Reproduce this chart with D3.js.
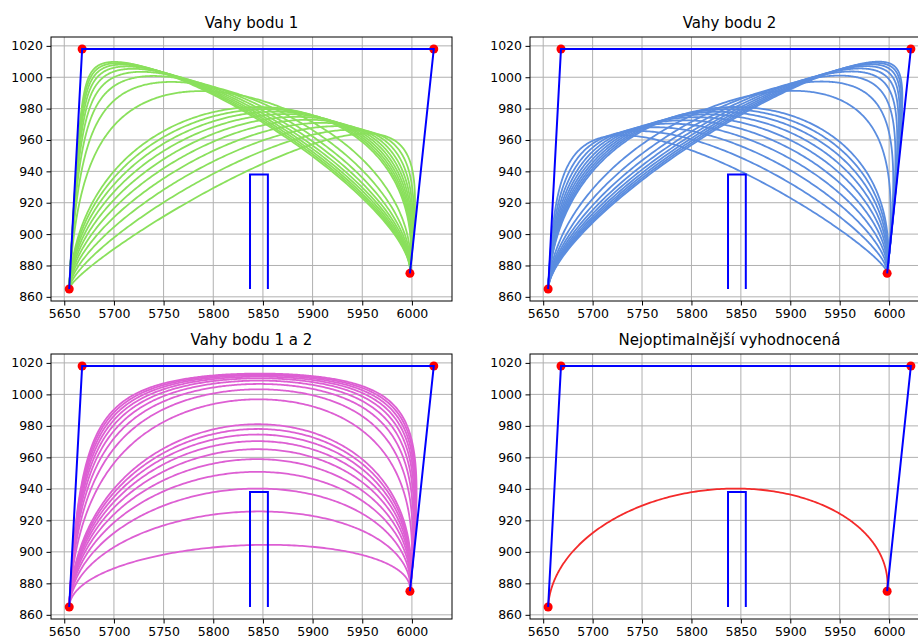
<!DOCTYPE html>
<html><head><meta charset="utf-8">
<script src="https://cdn.jsdelivr.net/npm/d3@7"></script>
<style>body{margin:0;background:#fff;overflow:hidden} text{font-family:"DejaVu Sans",sans-serif;fill:#000}</style>
</head><body>
<svg id="c" width="918" height="639"></svg>
<script>
// ---- data ----
const controlX = [5655, 5668, 6022, 5998];
const controlY = [865, 1018, 1018, 875];
const obstacleX = [5837, 5837, 5855, 5855];
const obstacleY = [865, 938, 938, 865];
const weights = [0.1, 0.2, 0.3, 0.4, 0.5, 0.6, 0.7, 0.8, 0.9, 1, 2, 3, 4, 5, 6, 7, 8, 9, 10];
const bestWeight = 0.3;
const xTicks = [5650, 5700, 5750, 5800, 5850, 5900, 5950, 6000];
const yTicks = [860, 880, 900, 920, 940, 960, 980, 1000, 1020];
const titles = ["Vahy bodu 1", "Vahy bodu 2", "Vahy bodu 1 a 2", "Nejoptimalnější vyhodnocená"];

// curve weight pairs per panel [w1, w2]
const panelWeights = [
  weights.map(w => [w, 1]),
  weights.map(w => [1, w]),
  weights.map(w => [w, w]),
  [[bestWeight, bestWeight]]
];
const panelColors = ["#8ae05c", "#5b8ddf", "#dd5fd3", "#f42a2a"];
const boxes = [
  {x0: 51, x1: 452, y0: 37, y1: 301},
  {x0: 530, x1: 929, y0: 37, y1: 301},
  {x0: 51, x1: 452, y0: 354, y1: 619},
  {x0: 530, x1: 929, y0: 354, y1: 619}
];

function rationalBezier(w1, w2, n) {
  const w = [1, w1, w2, 1];
  const pts = [];
  for (let i = 0; i <= n; i++) {
    const t = i / n, s = 1 - t;
    const b = [s*s*s, 3*t*s*s, 3*t*t*s, t*t*t];
    let den = 0, nx = 0, ny = 0;
    for (let k = 0; k < 4; k++) {
      const c = b[k] * w[k];
      den += c; nx += c * controlX[k]; ny += c * controlY[k];
    }
    pts.push([nx / den, ny / den]);
  }
  return pts;
}

const svg = d3.select("#c");
const xmin = d3.min(controlX), xmax = d3.max(controlX);
const ymin = d3.min(controlY), ymax = d3.max(controlY);
const mx = (xmax - xmin) * 0.05, my = (ymax - ymin) * 0.05;

boxes.forEach((bx, pi) => {
  const x = d3.scaleLinear().domain([xmin - mx, xmax + mx]).range([bx.x0, bx.x1]);
  const y = d3.scaleLinear().domain([ymin - my, ymax + my]).range([bx.y1, bx.y0]);
  const g = svg.append("g");
  const clipId = "clip" + pi;
  g.append("clipPath").attr("id", clipId).append("rect")
    .attr("x", bx.x0).attr("y", bx.y0).attr("width", bx.x1 - bx.x0).attr("height", bx.y1 - bx.y0);

  // grid
  const grid = g.append("g").attr("stroke", "#b0b0b0").attr("stroke-width", 1);
  xTicks.forEach(v => grid.append("line").attr("x1", x(v)).attr("x2", x(v)).attr("y1", bx.y0).attr("y2", bx.y1));
  yTicks.forEach(v => grid.append("line").attr("y1", y(v)).attr("y2", y(v)).attr("x1", bx.x0).attr("x2", bx.x1));

  const plot = g.append("g").attr("clip-path", `url(#${clipId})`);
  const line = d3.line().x(d => x(d[0])).y(d => y(d[1]));

  panelWeights[pi].forEach(([w1, w2]) => {
    plot.append("path").attr("d", line(rationalBezier(w1, w2, 300)))
      .attr("fill", "none").attr("stroke", panelColors[pi]).attr("stroke-width", 1.8);
  });

  // control points
  controlX.forEach((cx, i) => {
    plot.append("circle").attr("cx", x(cx)).attr("cy", y(controlY[i])).attr("r", 4.5).attr("fill", "#ff0000");
  });
  // control polygon
  plot.append("path").attr("d", line(controlX.map((cx, i) => [cx, controlY[i]])))
    .attr("fill", "none").attr("stroke", "#0000ff").attr("stroke-width", 2);
  // obstacle
  plot.append("path").attr("d", line(obstacleX.map((ox, i) => [ox, obstacleY[i]])))
    .attr("fill", "none").attr("stroke", "#0000ff").attr("stroke-width", 2);

  // spines
  g.append("rect").attr("x", bx.x0).attr("y", bx.y0).attr("width", bx.x1 - bx.x0).attr("height", bx.y1 - bx.y0)
    .attr("fill", "none").attr("stroke", "#000").attr("stroke-width", 1);

  // axes ticks
  const xAxis = d3.axisBottom(x).tickValues(xTicks).tickSize(4.5).tickPadding(3.5).tickFormat(d3.format("d"));
  const yAxis = d3.axisLeft(y).tickValues(yTicks).tickSize(4.5).tickPadding(3.5).tickFormat(d3.format("d"));
  const gx = g.append("g").attr("transform", `translate(0,${bx.y1})`).call(xAxis);
  const gy = g.append("g").attr("transform", `translate(${bx.x0},0)`).call(yAxis);
  [gx, gy].forEach(a => {
    a.select(".domain").remove();
    a.selectAll("text").style("font-size", "12.5px").style("font-family", "DejaVu Sans, sans-serif").attr("fill", "#000");
    a.selectAll("line").attr("stroke", "#000").attr("stroke-width", 1);
  });

  // title
  g.append("text").attr("x", (bx.x0 + bx.x1) / 2).attr("y", bx.y0 - 9)
    .attr("text-anchor", "middle").style("font-size", "15px").text(titles[pi]);
});
</script>
</body></html>
